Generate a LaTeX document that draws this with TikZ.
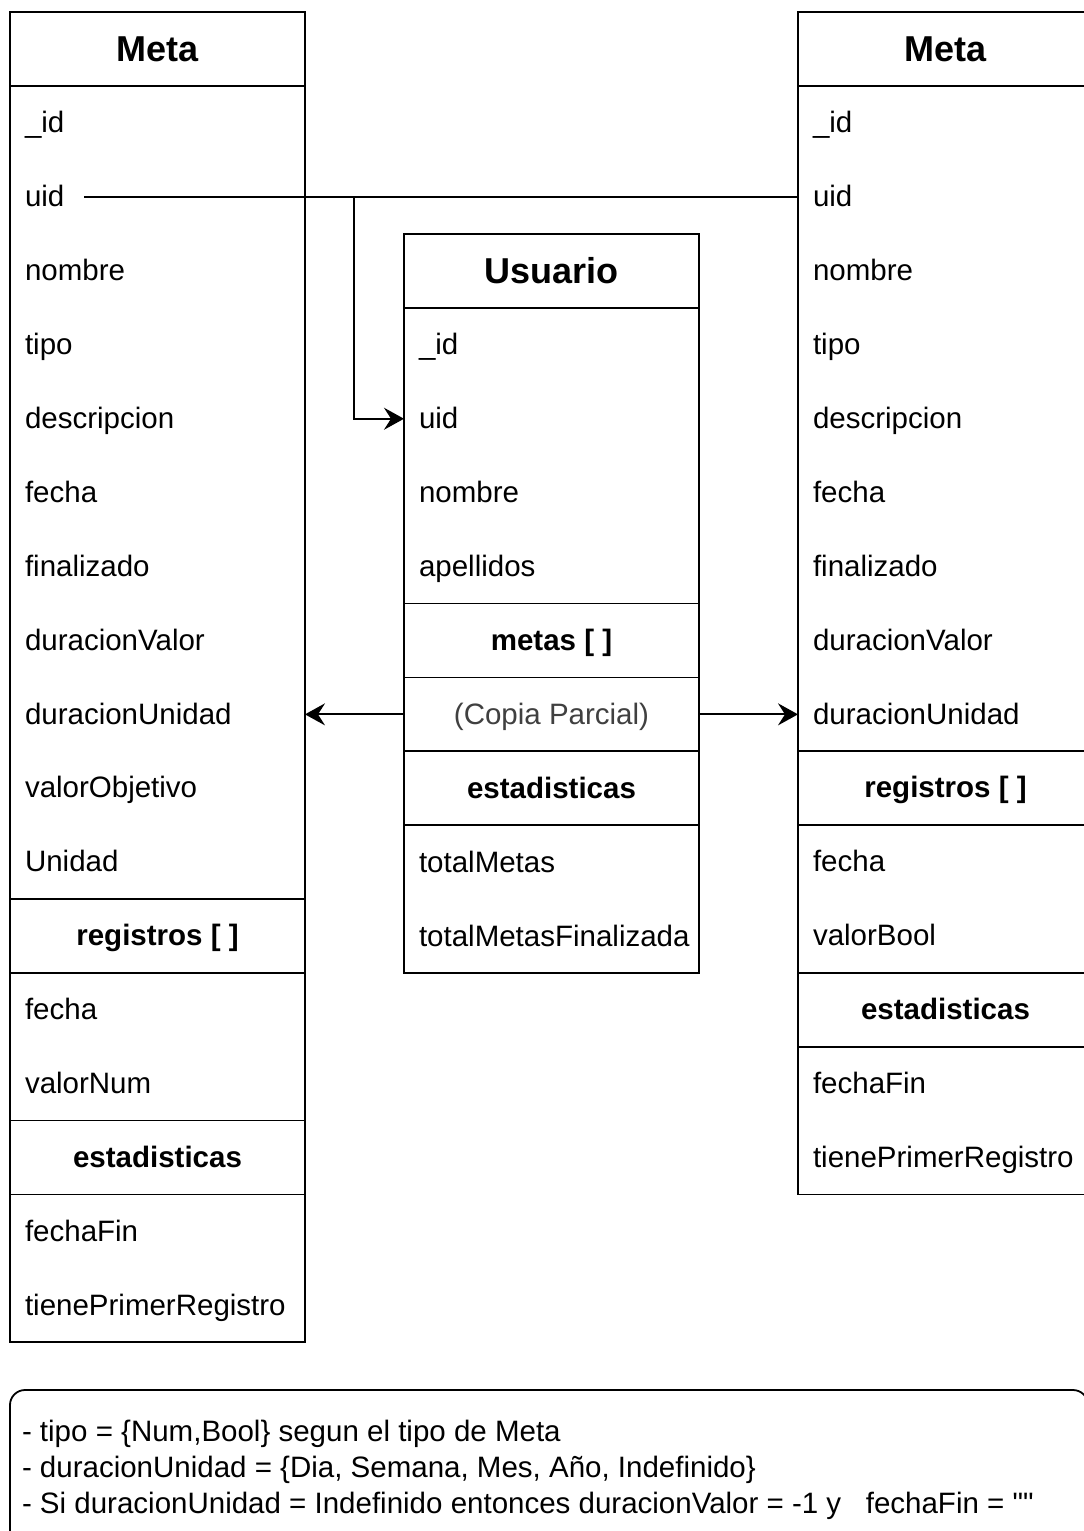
\documentclass[tikz,border=0pt]{standalone}
\usepackage{fontspec}
\setmainfont{Liberation Sans}
\newfontfamily\straightquotes{Liberation Sans}
\usetikzlibrary{arrows.meta}
\begin{document}
\begin{tikzpicture}[x=1pt,y=-1pt,
  every node/.style={inner sep=0pt, outer sep=0pt},
  link/.style={line width=1.8pt, draw=black},
  cell/.style={link, minimum width=295pt, anchor=north west},
  hdr/.style={cell, minimum height=73.9pt, font=\bfseries\fontsize{36}{43}\selectfont, text height=31pt, text depth=6pt},
  sect/.style={cell, minimum height=73.9pt, font=\bfseries\fontsize{29.5}{35}\selectfont, text height=24pt, text depth=4pt},
  field/.style={anchor=west, font=\fontsize{29.5}{35}\selectfont, text height=24pt, text depth=4pt},
  arr/.style={link, -{Stealth[length=20pt,width=22pt,inset=7pt]}},
]
\useasboundingbox (0,0) rectangle (1084,1531);
\clip (0,0) rectangle (1084,1531);

% ---------- left Meta ----------
\node[hdr] (Lhead) at (10,12) {Meta};
\node[cell, minimum height=812.9pt] (LF) at (10,85.9) {};
\node[sect] (Lreg) at (10,898.8) {registros [ ]};
\node[cell, minimum height=147.8pt] (LregF) at (10,972.7) {};
\node[sect] (Lest) at (10,1120.5) {estadisticas};
\node[cell, minimum height=147.8pt] (LestF) at (10,1194.4) {};

\node[field] (Lid)   at (25,122.85) {\_id};
\node[field] (Luid)  at (25,196.75) {uid};
\node[field] (Lnom)  at (25,270.65) {nombre};
\node[field] (Ltipo) at (25,344.55) {tipo};
\node[field] (Ldesc) at (25,418.45) {descripcion};
\node[field] (Lfec)  at (25,492.35) {fecha};
\node[field] (Lfin)  at (25,566.25) {finalizado};
\node[field] (Ldv)   at (25,640.15) {duracionValor};
\node[field] (Ldu)   at (25,714.05) {duracionUnidad};
\node[field] (Lvo)   at (25,787.95) {valorObjetivo};
\node[field] (Lun)   at (25,861.85) {Unidad};
\node[field] (Lrf)   at (25,1009.65) {fecha};
\node[field] (Lrv)   at (25,1083.55) {valorNum};
\node[field] (Lff)   at (25,1231.35) {fechaFin};
\node[field] (Ltp)   at (25,1305.25) {tienePrimerRegistro};

% ---------- Usuario ----------
\node[hdr] (Uhead) at (404,234) {Usuario};
\node[cell, minimum height=295.6pt] (UF) at (404,307.9) {};
\node[sect] (Umetas) at (404,603.5) {metas [ ]};
\node[cell, minimum height=73.9pt, font=\fontsize{29.5}{35}\selectfont, text height=24pt, text depth=4pt, text=black!75] (Ucopy) at (404,677.4) {(Copia Parcial)};
\node[sect] (Uest) at (404,751.3) {estadisticas};
\node[cell, minimum height=147.8pt] (UestF) at (404,825.2) {};

\node[field] (Uid)  at (419,344.85) {\_id};
\node[field] (Uuid) at (419,418.75) {uid};
\node[field] (Unom) at (419,492.65) {nombre};
\node[field] (Uape) at (419,566.55) {apellidos};
\node[field] (Utm)  at (419,862.15) {totalMetas};
\node[field] (Utmf) at (419,936.05) {totalMetasFinalizada};

% ---------- right Meta ----------
\node[hdr] (Rhead) at (798,12) {Meta};
\node[cell, minimum height=665.1pt] (RF) at (798,85.9) {};
\node[sect] (Rreg) at (798,751) {registros [ ]};
\node[cell, minimum height=147.8pt] (RregF) at (798,824.9) {};
\node[sect] (Rest) at (798,972.7) {estadisticas};
\node[cell, minimum height=147.8pt] (RestF) at (798,1046.6) {};

\node[field] (Rid)   at (813,122.85) {\_id};
\node[field] (Ruid)  at (813,196.75) {uid};
\node[field] (Rnom)  at (813,270.65) {nombre};
\node[field] (Rtipo) at (813,344.55) {tipo};
\node[field] (Rdesc) at (813,418.45) {descripcion};
\node[field] (Rfec)  at (813,492.35) {fecha};
\node[field] (Rfin)  at (813,566.25) {finalizado};
\node[field] (Rdv)   at (813,640.15) {duracionValor};
\node[field] (Rdu)   at (813,714.05) {duracionUnidad};
\node[field] (Rrf)   at (813,861.85) {fecha};
\node[field] (Rrv)   at (813,935.75) {valorBool};
\node[field] (Rff)   at (813,1083.55) {fechaFin};
\node[field] (Rtp)   at (813,1157.45) {tienePrimerRegistro};

% ---------- connectors ----------
\coordinate (J) at (354,196.75);
\draw[link, shorten <=20pt] (Luid.east) -- (RF.west |- Ruid);
\draw[arr] (J) |- (UF.west |- Uuid);
\draw[arr] (Ucopy.west) -- (LF.east |- Ucopy);
\draw[arr] (Ucopy.east) -- (RF.west |- Ucopy);

% ---------- notes ----------
\node[link, rounded corners=15pt, minimum width=1078pt, minimum height=180pt, anchor=north west] (note) at (10,1390) {};
\node[field] (n1) at (22,1431) {- tipo = \{Num,Bool\} segun el tipo de Meta};
\node[field] (n2) at (22,1467) {- duracionUnidad = \{Dia, Semana, Mes, Año, Indefinido\}};
\node[field] (n3) at (22,1503) {- Si duracionUnidad = Indefinido entonces duracionValor = -1 y\ \ \ fechaFin = {\straightquotes ""}};
\end{tikzpicture}
\end{document}
